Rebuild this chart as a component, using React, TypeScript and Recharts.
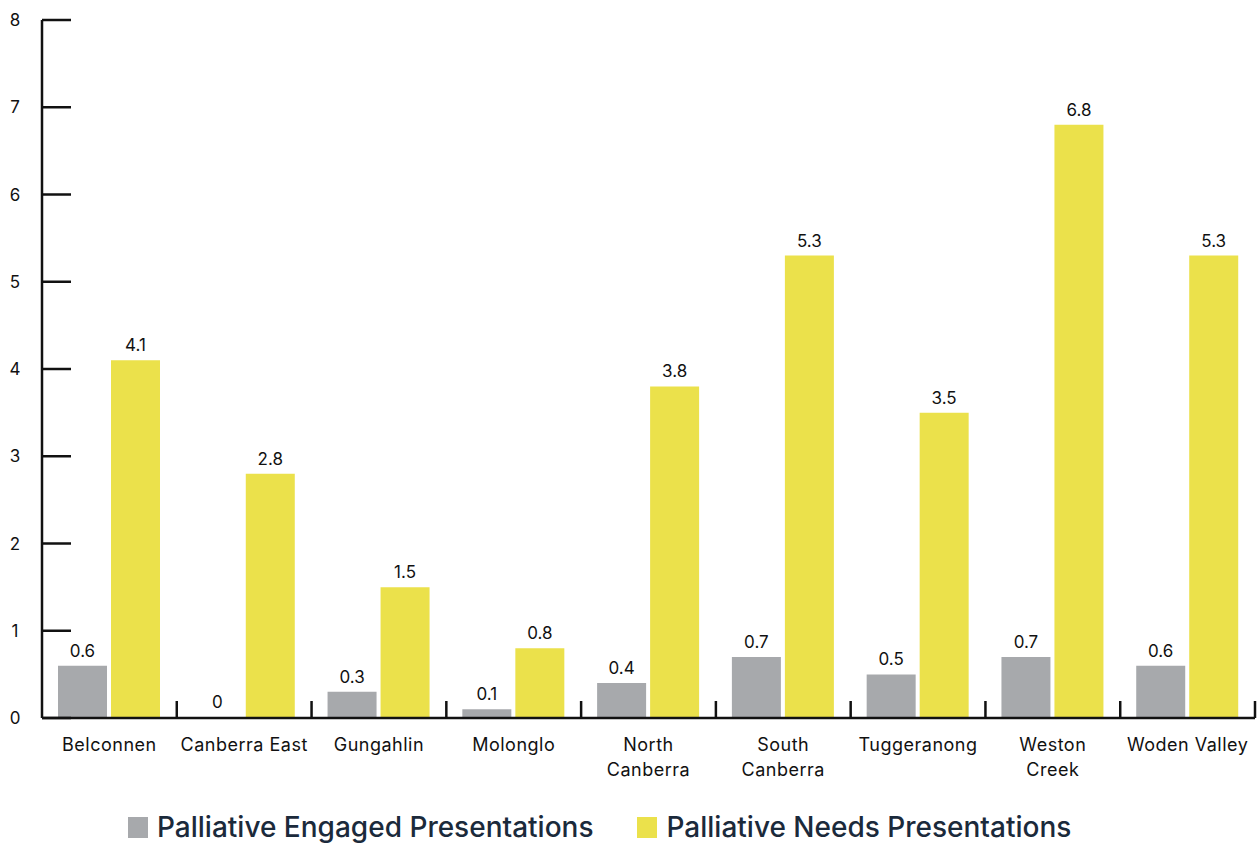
import React from 'react';
import { BarChart, Bar, XAxis, YAxis, Legend, LabelList } from 'recharts';

// ---------------------------------------------------------------------------
// Data
// ---------------------------------------------------------------------------

const districts = [
  'Belconnen',
  'Canberra East',
  'Gungahlin',
  'Molonglo',
  'North Canberra',
  'South Canberra',
  'Tuggeranong',
  'Weston Creek',
  'Woden Valley',
];

// districts whose tick label breaks onto two lines
const wrapped = ['North Canberra', 'South Canberra', 'Weston Creek'];

const engaged = [0.6, 0, 0.3, 0.1, 0.4, 0.7, 0.5, 0.7, 0.6];
const needs = [4.1, 2.8, 1.5, 0.8, 3.8, 5.3, 3.5, 6.8, 5.3];

const yTicks = [0, 1, 2, 3, 4, 5, 6, 7, 8];

// ---------------------------------------------------------------------------
// Layout
// ---------------------------------------------------------------------------

const WIDTH = 1259;
const HEIGHT = 843;
const MARGIN = { top: 20, right: 4, left: 0, bottom: 0 };
const Y_AXIS_W = 42;
const BAND = (WIDTH - MARGIN.left - MARGIN.right - Y_AXIS_W) / districts.length;

const GREY = '#a7a9ac';
const YELLOW = '#ebe14b';
const FONT = 'Inter, "Noto Sans", sans-serif';

const chartData = districts.map((name, i) => ({
  name,
  engaged: engaged[i],
  needs: needs[i],
}));

// ---------------------------------------------------------------------------
// Custom ticks
// ---------------------------------------------------------------------------

const YTick: React.FC<any> = ({ x, y, payload }) => (
  <g>
    <line x1={x} y1={y} x2={x + 29} y2={y} stroke="#111" strokeWidth={2.5} />
    <text x={x - 27} y={y} dy={6} textAnchor="middle" fill="#111" fontSize={17} fontFamily={FONT}>
      {payload.value}
    </text>
  </g>
);

const XTick: React.FC<any> = ({ x, y, payload }) => {
  const label: string = payload.value;
  const lines = wrapped.includes(label) ? label.split(' ') : [label];
  const right = x + BAND / 2;
  return (
    <g>
      <line x1={right} y1={y} x2={right} y2={y - 17} stroke="#111" strokeWidth={2.5} />
      {lines.map((l, i) => (
        <text
          key={l}
          x={x}
          y={y + 33 + i * 25}
          textAnchor="middle"
          fill="#111"
          fontSize={18}
          letterSpacing={0.5}
          fontFamily={FONT}
        >
          {l}
        </text>
      ))}
    </g>
  );
};

const LegendContent: React.FC<any> = ({ payload }) => (
  <div style={{ display: 'flex', justifyContent: 'flex-start', gap: 44, paddingLeft: 128 }}>
    {(payload || []).map((p: any) => (
      <div key={p.value} style={{ display: 'flex', alignItems: 'center' }}>
        <span style={{ width: 20, height: 21, background: p.color, marginRight: 9, display: 'inline-block' }} />
        <span style={{ fontFamily: FONT, fontSize: 28, fontWeight: 500, color: '#1b2a3b' }}>{p.value}</span>
      </div>
    ))}
  </div>
);

// ---------------------------------------------------------------------------
// Component
// ---------------------------------------------------------------------------

export default function App() {
  return (
    <div style={{ position: 'absolute', left: 0, top: 0, width: WIDTH, height: HEIGHT, background: '#fff' }}>
      <BarChart
        width={WIDTH}
        height={HEIGHT}
        data={chartData}
        margin={MARGIN}
        barCategoryGap={16}
        barGap={4}
      >
        <YAxis
          domain={[0, 8]}
          ticks={yTicks}
          width={Y_AXIS_W}
          tickSize={0}
          tickMargin={0}
          tickLine={false}
          axisLine={{ stroke: '#111', strokeWidth: 2.5 }}
          tick={<YTick />}
          interval={0}
        />
        <XAxis
          dataKey="name"
          height={92}
          tickSize={0}
          tickMargin={0}
          tickLine={false}
          axisLine={{ stroke: '#111', strokeWidth: 2.5 }}
          tick={<XTick />}
          interval={0}
        />
        <Legend
          verticalAlign="bottom"
          height={33}
          wrapperStyle={{ left: 0, width: WIDTH }}
          content={<LegendContent />}
        />
        <Bar
          dataKey="engaged"
          name="Palliative Engaged Presentations"
          fill={GREY}
          minPointSize={1}
          isAnimationActive={false}
        >
          <LabelList dataKey="engaged" position="top" offset={9} fill="#111" fontSize={17} fontFamily={FONT} />
        </Bar>
        <Bar dataKey="needs" name="Palliative Needs Presentations" fill={YELLOW} isAnimationActive={false}>
          <LabelList dataKey="needs" position="top" offset={9} fill="#111" fontSize={17} fontFamily={FONT} />
        </Bar>
      </BarChart>
    </div>
  );
}
